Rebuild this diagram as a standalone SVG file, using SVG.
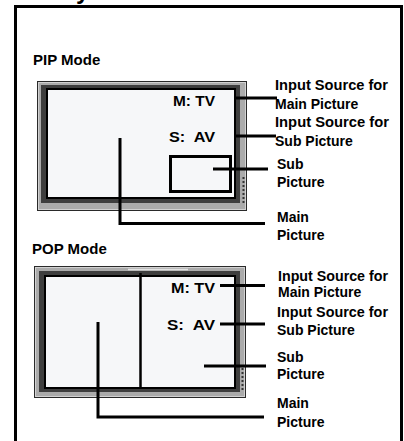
<svg xmlns="http://www.w3.org/2000/svg" width="404" height="441" viewBox="0 0 404 441">
<style>
.t{font-family:"Liberation Sans",Arial,sans-serif;font-weight:bold;font-size:14px;fill:#000}
.h{font-size:15px}
.c{stroke:#000;stroke-width:3;fill:none}
.bz{fill:#ababab;stroke:#2a2a2a;stroke-width:1}
.hl{fill:none;stroke:#d2d2d2;stroke-width:1}
.dk{fill:#3e3e3e}
.bk{fill:#000}
.sc{fill:#f6f7f9}
.btn{stroke:#333;stroke-width:2;stroke-dasharray:2 2;fill:none}
</style>
<rect width="404" height="441" fill="#fff"/>
<text class="t" x="76" y="-1" style="font-size:24px">y</text>
<path d="M15.5,441 V6.5 H401.5 V441" fill="none" stroke="#000" stroke-width="3"/>

<g id="pip">
<text class="t h" x="33" y="65">PIP Mode</text>
<g id="pip-tv">
<rect class="bz" x="37.5" y="81.5" width="209" height="129"/>
<rect class="hl" x="38.5" y="82.5" width="207" height="127"/>
<rect class="dk" x="41" y="85" width="199" height="118"/>
<rect class="bk" x="46" y="88" width="190" height="111"/>
<rect class="sc" x="48" y="90" width="186" height="107"/>
<path class="btn" d="M243.5,177 V203"/>
</g>
<g id="pip-sub"><rect x="170.5" y="156.5" width="60" height="35" fill="none" stroke="#000" stroke-width="3"/></g>
<text class="t" x="173" y="106" textLength="42" lengthAdjust="spacingAndGlyphs">M: TV</text>
<text class="t" x="169" y="142" textLength="46" lengthAdjust="spacingAndGlyphs" xml:space="preserve">S:  AV</text>
<g id="pip-l1"><text class="t" x="275" y="90" textLength="113" lengthAdjust="spacingAndGlyphs">Input Source for</text><text class="t" x="275" y="109">Main Picture</text></g>
<g id="pip-l2"><text class="t" x="275" y="127" textLength="114" lengthAdjust="spacingAndGlyphs">Input Source for</text><text class="t" x="275" y="146">Sub Picture</text></g>
<g id="pip-l3"><text class="t" x="277" y="169">Sub</text><text class="t" x="277" y="187">Picture</text></g>
<g id="pip-l4"><text class="t" x="277" y="222">Main</text><text class="t" x="277" y="240">Picture</text></g>
</g>

<g id="pop">
<text class="t h" x="32" y="254">POP Mode</text>
<g id="pop-tv">
<rect class="bz" x="34.5" y="266.5" width="211" height="131"/>
<rect class="hl" x="35.5" y="267.5" width="209" height="129"/>
<path d="M128,269.5 H188" stroke="#e2e2e2" stroke-width="1.5"/>
<rect class="dk" x="39" y="271" width="201" height="121"/>
<rect class="bk" x="44" y="275" width="192" height="114"/>
<rect class="sc" x="46" y="277" width="188" height="110"/>
<path d="M140.5,273 V388" stroke="#000" stroke-width="2.5"/>
<path class="btn" d="M242.5,368 V391"/>
</g>
<text class="t" x="171" y="293" textLength="44" lengthAdjust="spacingAndGlyphs">M: TV</text>
<text class="t" x="167" y="330" textLength="48" lengthAdjust="spacingAndGlyphs" xml:space="preserve">S:  AV</text>
<g id="pop-l1"><text class="t" x="278" y="281" textLength="110" lengthAdjust="spacingAndGlyphs">Input Source for</text><text class="t" x="278" y="297">Main Picture</text></g>
<g id="pop-l2"><text class="t" x="277" y="317" textLength="111" lengthAdjust="spacingAndGlyphs">Input Source for</text><text class="t" x="277" y="335">Sub Picture</text></g>
<g id="pop-l3"><text class="t" x="277" y="362">Sub</text><text class="t" x="277" y="379">Picture</text></g>
<g id="pop-l4"><text class="t" x="277" y="408">Main</text><text class="t" x="277" y="427">Picture</text></g>
</g>

<g id="connectors" class="c">
<path d="M234,98 H277"/>
<path d="M234,136 H276"/>
<path d="M213,169 H268"/>
<path d="M120,138 V223.5 H265"/>
<path d="M220,285.5 H265"/>
<path d="M220,324 H265"/>
<path d="M204,366 H266"/>
<path d="M98,322 V417 H264"/>
</g>
</svg>
